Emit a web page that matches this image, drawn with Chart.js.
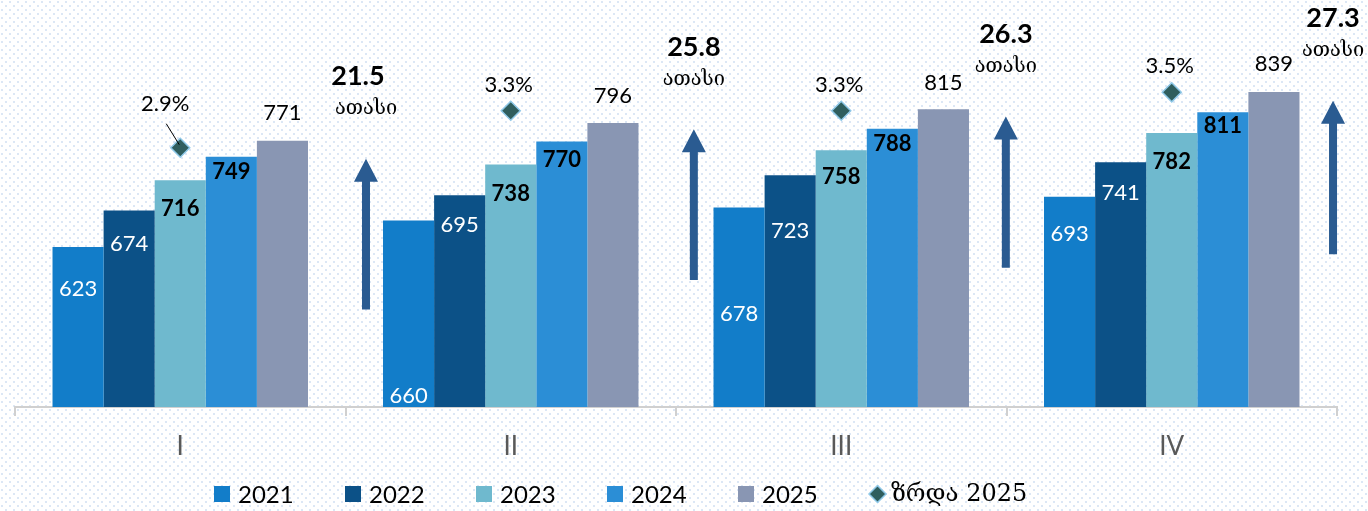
<!DOCTYPE html>
<html>
<head>
<meta charset="utf-8">
<script src="https://cdn.jsdelivr.net/npm/chart.js@4.4.0/dist/chart.umd.min.js"></script>
<style>
  html, body { margin: 0; padding: 0; background: #fff; }
</style>
</head>
<body>
<canvas id="grafiki" width="1368" height="511"></canvas>
<script>
// მონაცემები
const kvartlebi = ["I", "II", "III", "IV"];
const wlebi = ["2021", "2022", "2023", "2024", "2025"];
const m2021 = [623, 660, 678, 693];
const m2022 = [674, 695, 723, 741];
const m2023 = [716, 738, 758, 782];
const m2024 = [749, 770, 788, 811];
const m2025 = [771, 796, 815, 839];
const zrda2025 = [2.9, 3.3, 3.3, 3.5];
const zrdaSaxeli = "ზრდა 2025";
const matebebi = ["21.5", "25.8", "26.3", "27.3"];
const atasi = "ათასი";

const ferebi = ["#127DC9", "#0C5187", "#6FB9CE", "#2B8ED6", "#8996B3"];
const shrifti = "Lato, 'DejaVu Sans', sans-serif";
const qartuli = "'DejaVu Serif', 'DejaVu Sans', serif";

// წარწერების სტილი (ზოლის თავიდან დაშორება, px)
const warwerebi = [
  { color: "#fff", bold: false, shift: [42, 175, 106, 37] },
  { color: "#fff", bold: false, shift: [33, 30, 56, 31] },
  { color: "#000", bold: true, shift: [29, 29, 27, 29] },
  { color: "#000", bold: true, shift: [15, 18, 15, 14] },
  { color: "#000", bold: false, shift: [-28, -27, -26, -28] }
];

// ისრები კატეგორიებს შორის
const isrebi = [
  { x: 0.562, from: 536, to: 746, dx: -8 },
  { x: 1.554, from: 577, to: 787, dx: 0 },
  { x: 2.498, from: 594, to: 805, dx: 0 },
  { x: 3.488, from: 613, to: 827, dx: 0 }
];

// ფონი წერტილებით
const fonPlugin = {
  id: "fon",
  beforeDraw(chart) {
    const ctx = chart.ctx;
    const tile = document.createElement("canvas");
    tile.width = 8; tile.height = 8;
    const t = tile.getContext("2d");
    t.fillStyle = "#dce7f5";
    t.fillRect(1, 1, 2, 2);
    t.fillRect(5, 5, 2, 2);
    ctx.save();
    ctx.fillStyle = "#fff";
    ctx.fillRect(0, 0, chart.width, chart.height);
    ctx.fillStyle = ctx.createPattern(tile, "repeat");
    ctx.fillRect(0, 0, chart.width, chart.height);
    ctx.restore();
  }
};

function isari(ctx, x, yBottom, yTip) {
  const shaft = 8, headW = 24, headH = 23;
  ctx.fillStyle = "#2A5B91";
  ctx.beginPath();
  ctx.moveTo(x - shaft / 2, yBottom);
  ctx.lineTo(x - shaft / 2, yTip + headH);
  ctx.lineTo(x - headW / 2, yTip + headH);
  ctx.lineTo(x, yTip);
  ctx.lineTo(x + headW / 2, yTip + headH);
  ctx.lineTo(x + shaft / 2, yTip + headH);
  ctx.lineTo(x + shaft / 2, yBottom);
  ctx.closePath();
  ctx.fill();
}

const warwerebiPlugin = {
  id: "warwerebi",
  afterDatasetsDraw(chart) {
    const ctx = chart.ctx;
    const xs = chart.scales.x, ys = chart.scales.y;
    ctx.save();
    ctx.textAlign = "center";
    ctx.textBaseline = "middle";

    // ზოლების მნიშვნელობები
    warwerebi.forEach((st, di) => {
      const meta = chart.getDatasetMeta(di + 1);
      meta.data.forEach((bar, i) => {
        ctx.font = (st.bold ? "bold " : "") + "22px " + shrifti;
        ctx.fillStyle = st.color;
        ctx.fillText(chart.data.datasets[di + 1].data[i], bar.x, bar.y + st.shift[i]);
      });
    });

    // ზრდის წარწერები
    const zm = chart.getDatasetMeta(0);
    ctx.font = "22px " + shrifti;
    ctx.fillStyle = "#000";
    zm.data.forEach((pt, i) => {
      const txt = zrda2025[i].toFixed(1) + "%";
      if (i === 0) {
        ctx.fillText(txt, pt.x - 15, pt.y - 44);
        ctx.strokeStyle = "#000";
        ctx.lineWidth = 1;
        ctx.beginPath();
        ctx.moveTo(pt.x - 14, pt.y - 24);
        ctx.lineTo(pt.x - 1, pt.y - 3);
        ctx.stroke();
      } else {
        ctx.fillText(txt, pt.x - 2, pt.y - 26);
      }
    });

    // ისრები და ტექსტი
    isrebi.forEach((a, i) => {
      const x = xs.getPixelForValue(a.x);
      const yb = ys.getPixelForValue(a.from);
      const yt = ys.getPixelForValue(a.to);
      isari(ctx, x, yb, yt);
      ctx.fillStyle = "#000";
      ctx.font = "bold 27px " + shrifti;
      ctx.fillText(matebebi[i], x + a.dx, yt - 82);
      ctx.font = "20px " + qartuli;
      ctx.fillText(atasi, x, yt - 50);
    });
    ctx.restore();
  },
  afterDraw(chart) {
    // ლეგენდა
    const ctx = chart.ctx;
    ctx.save();
    ctx.textBaseline = "middle";
    ctx.textAlign = "left";
    const y = 494;
    let x = 214;
    wlebi.forEach((w, i) => {
      ctx.fillStyle = ferebi[i];
      ctx.fillRect(x, y - 8, 16, 16);
      ctx.fillStyle = "#000";
      ctx.font = "24px " + shrifti;
      ctx.fillText(w, x + 24, y + 1);
      x += 131;
    });
    ctx.fillStyle = "#2F5E5E";
    ctx.strokeStyle = "#8EC8E8";
    ctx.lineWidth = 1.5;
    ctx.beginPath();
    ctx.moveTo(x + 8.5, y - 8.5);
    ctx.lineTo(x + 17, y);
    ctx.lineTo(x + 8.5, y + 8.5);
    ctx.lineTo(x, y);
    ctx.closePath();
    ctx.fill();
    ctx.stroke();
    ctx.fillStyle = "#000";
    ctx.font = "24px " + qartuli;
    ctx.fillText(zrdaSaxeli, x + 22, y + 1);
    ctx.restore();
  }
};

const seriebi = [m2021, m2022, m2023, m2024, m2025];

new Chart(document.getElementById("grafiki"), {
  type: "bar",
  data: {
    labels: kvartlebi,
    datasets: [
      {
        type: "line",
        label: zrdaSaxeli,
        data: zrda2025,
        yAxisID: "y2",
        showLine: false,
        pointStyle: "rectRot",
        pointRadius: 9.5,
        pointBackgroundColor: "#2F5E5E",
        pointBorderColor: "#8EC8E8",
        pointBorderWidth: 1.5,
        order: 0
      },
      ...seriebi.map((d, i) => ({
        label: wlebi[i],
        data: d,
        backgroundColor: ferebi[i],
        yAxisID: "y",
        categoryPercentage: 0.773,
        barPercentage: 1.0,
        order: 1
      }))
    ]
  },
  options: {
    responsive: false,
    animation: false,
    layout: { padding: { top: 5, left: 15, right: 31, bottom: 33 } },
    plugins: {
      legend: { display: false },
      tooltip: { enabled: false }
    },
    scales: {
      x: {
        offset: true,
        grid: {
          offset: true,
          drawOnChartArea: false,
          tickLength: 9,
          color: "#d0d0d0",
          lineWidth: 2
        },
        border: { color: "#d0d0d0", width: 2 },
        ticks: {
          color: "#595959",
          font: { family: shrifti, size: 26 },
          padding: 15.4
        }
      },
      y: { display: false, min: 400, max: 952 },
      y2: { display: false, min: 0.091, max: 4.381 }
    }
  },
  plugins: [fonPlugin, warwerebiPlugin]
});
</script>
</body>
</html>
